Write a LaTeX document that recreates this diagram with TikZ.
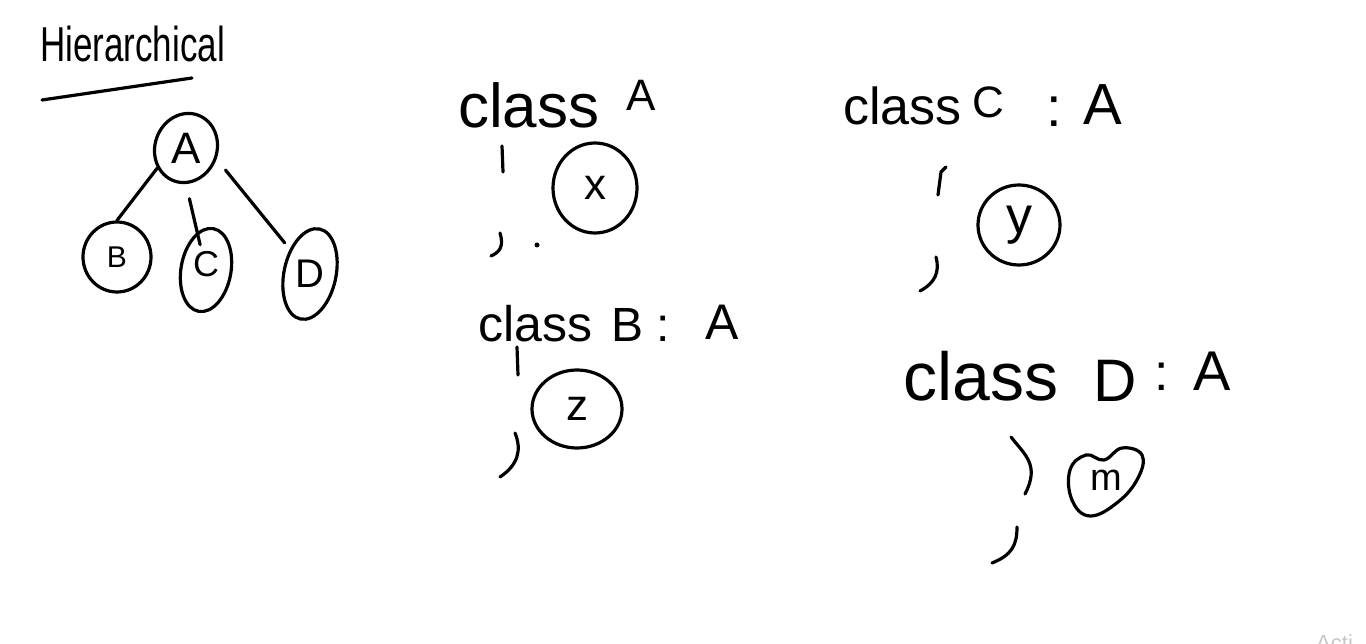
\documentclass[tikz,border=0pt]{standalone}
\usepackage{fontspec}
\setmainfont{Liberation Sans}
\usetikzlibrary{shapes.geometric}
\begin{document}
\begin{tikzpicture}[x=1pt,y=-1pt,
  ink/.style={line width=3.2pt, line cap=round, line join=round},
  oval/.style={draw, ellipse, line width=3.2pt, inner sep=0pt},
  hw/.style={font=\fontsize{#1}{#1}\selectfont, inner sep=0pt},
]
\useasboundingbox (0,0) rectangle (1366,644);
\fill[white] (0,0) rectangle (1366,644);

% title
\node[hw=35, anchor=base west, yscale=1.4] (title) at (40,62) {Hierarchical};
\draw[ink] (42,100) -- (192,78);

% tree
\node[oval, minimum width=62, minimum height=70, rotate=-20] (A) at (186,148) {};
\node[hw=44] (Alab) at (A.center) {A};
\node[oval, hw=30, minimum width=68, minimum height=70] (B) at (117,257) {B};
\node[oval, minimum width=50, minimum height=84, rotate=-10] (C) at (206,270) {};
\node[hw=36] (Clab) at ([yshift=6pt]C.center) {C};
\node[oval, minimum width=52, minimum height=92, rotate=-12] (D) at (310,274) {};
\node[hw=40] (Dlab) at (D.center) {D};
\draw[ink] (A.235) -- (B.north);
\draw[ink, shorten <=15pt, shorten >=26pt] (A.-70) -- (C.center);
\draw[ink, shorten <=14pt, shorten >=8pt] (A.east) -- (D);

% class A
\node[hw=62, anchor=base west] (kwA) at (458,128) {class};
\node[hw=44, anchor=base west] (nA) at (626,111) {A};
\draw[ink] (502,146) -- (503,172);
\node[oval, hw=44, minimum width=84, minimum height=90] (x) at (595,188) {x};
\draw[ink] (500,233) .. controls (504,246) and (500,252) .. (491,256);
\fill (537,245) circle (2.5);

% class B : A
\node[hw=50, anchor=base west] (kwB) at (478,342) {class};
\node[hw=48, anchor=base west] (nB) at (611,342) {B};
\node[hw=48, anchor=base west] (cB) at (656,342) {:};
\node[hw=50, anchor=base west] (pB) at (705,340) {A};
\draw[ink] (517,347) -- (518,375);
\node[oval, hw=44, minimum width=90, minimum height=78] (z) at (577,409) {z};
\draw[ink] (515,433) .. controls (522,450) and (518,465) .. (500,477);

% class C : A
\node[hw=52, anchor=base west] (kwC) at (843,125) {class};
\node[hw=44, anchor=base west] (nC) at (972,118) {C};
\node[hw=56, anchor=base west] (cC) at (1046,127) {:};
\node[hw=58, anchor=base west] (pC) at (1083,125) {A};
\draw[ink] (946,167) -- (941,172) -- (938,195);
\node[oval, hw=52, minimum width=82, minimum height=80] (y) at (1019,225) {y};
\draw[ink] (936,257) .. controls (940,272) and (935,283) .. (920,291);

% class D : A
\node[hw=68, anchor=base west] (kwD) at (903,400) {class};
\node[hw=60, anchor=base west] (nD) at (1093,402) {D};
\node[hw=52, anchor=base west] (cD) at (1154,390) {:};
\node[hw=56, anchor=base west] (pD) at (1193,390) {A};
\draw[ink] (1011,437) .. controls (1025,455) and (1040,465) .. (1025,494);
\node[hw=38] (m) at (1106,480) {m};
\draw[ink] plot[smooth cycle, tension=0.7] coordinates {(1086,455) (1104,460) (1122,448) (1142,455) (1138,478) (1118,502) (1090,516) (1072,500) (1070,470)};
\draw[ink] (1017,527) .. controls (1017,545) and (1012,555) .. (992,563);

% watermark
\node[hw=22, text=gray!45, anchor=base west] (wm) at (1316,650) {Acti};
\end{tikzpicture}
\end{document}
